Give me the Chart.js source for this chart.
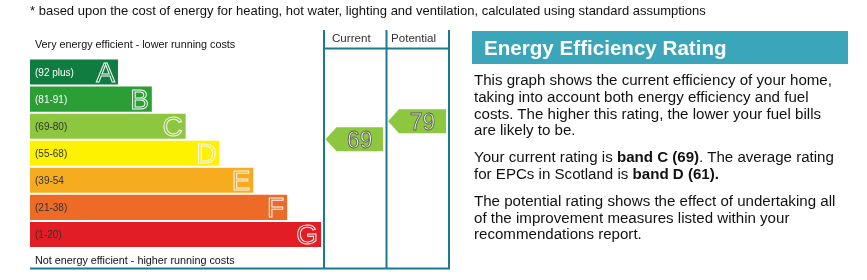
<!DOCTYPE html>
<html>
<head>
<meta charset="utf-8">
<script src="https://cdn.jsdelivr.net/npm/chart.js@4/dist/chart.umd.min.js"></script>
<style>
  html, body { margin: 0; padding: 0; background: #fff; }
  body { width: 867px; height: 280px; position: relative; overflow: hidden; font-family: "Liberation Sans", Arial, sans-serif; }
  #wrap { position: absolute; left: 0; top: 0; width: 867px; height: 280px; }
  .note { position: absolute; left: 30px; top: 3px; font-size: 13px; color: #111; white-space: nowrap; }
  .axtxt { position: absolute; left: 35px; font-size: 10.8px; color: #111; white-space: nowrap; }
  .colhead { position: absolute; top: 31px; font-size: 11.6px; color: #333; white-space: nowrap; }
  .panel { position: absolute; left: 472px; top: 31px; width: 376px; }
  .panel h2 { margin: 0; height: 33px; background: #3ba6ba; color: #fff; font-size: 20.6px; font-weight: bold; line-height: 33px; padding-left: 12px; }
  .panel p { margin: 0 0 0 2px; width: 368px; font-size: 15.1px; line-height: 16.8px; color: #111; }
  .panel p.p1 { margin-top: 8px; }
  .panel p.p2 { margin-top: 10px; }
  .panel p.p3 { margin-top: 10px; }
</style>
</head>
<body>
<div id="wrap"><canvas id="c" width="867" height="280"></canvas></div>
<div class="note">* based upon the cost of energy for heating, hot water, lighting and ventilation, calculated using standard assumptions</div>
<div class="axtxt" style="top:38px">Very energy efficient - lower running costs</div>
<div class="axtxt" style="top:254px">Not energy efficient - higher running costs</div>
<div class="colhead" style="left:332px">Current</div>
<div class="colhead" style="left:391px">Potential</div>
<div class="panel">
  <h2>Energy Efficiency Rating</h2>
  <p class="p1">This graph shows the current efficiency of your home, taking into account both energy efficiency and fuel costs. The higher this rating, the lower your fuel bills are likely to be.</p>
  <p class="p2">Your current rating is <b>band C (69)</b>. The average rating for EPCs in Scotland is <b>band D (61).</b></p>
  <p class="p3">The potential rating shows the effect of undertaking all of the improvement measures listed within your recommendations report.</p>
</div>
<script>
// ---- data ----
const bandLetters = ["A", "B", "C", "D", "E", "F", "G"];
const bandRanges = ["(92 plus)", "(81-91)", "(69-80)", "(55-68)", "(39-54", "(21-38)", "(1-20)"];
const bandLengths = [26, 36, 46, 56, 66, 76, 86];
const bandColors = ["#0f7d3f", "#2b9f35", "#8dc63f", "#fff200", "#f7ac1f", "#ee6b27", "#e31d25"];
const rangeTextColors = ["#ffffff", "#ffffff", "#333333", "#333333", "#333333", "#333333", "#333333"];
const currentRating = 69;
const potentialRating = 79;
const arrowColor = "#8dc63f";
const frameColor = "#1a7a8e";

const epcPlugin = {
  id: "epc",
  afterDatasetsDraw(chart) {
    const ctx = chart.ctx;
    const meta = chart.getDatasetMeta(0);
    ctx.save();
    // labels inside bars
    meta.data.forEach((bar, i) => {
      const props = bar.getProps(["x", "y", "base", "height"], true);
      ctx.fillStyle = rangeTextColors[i];
      ctx.font = "10px 'Liberation Sans', Arial, sans-serif";
      ctx.textAlign = "left";
      ctx.textBaseline = "middle";
      ctx.fillText(bandRanges[i], props.base + 5, props.y + 1);
      ctx.font = "28px 'Liberation Sans', Arial, sans-serif";
      ctx.textAlign = "right";
      ctx.textBaseline = "middle";
      ctx.fillStyle = bandColors[i];
      ctx.fillText(bandLetters[i], props.x - 3, props.y + 2);
      ctx.lineWidth = 1;
      ctx.strokeStyle = "#f4f4f4";
      ctx.strokeText(bandLetters[i], props.x - 3, props.y + 2);
    });
    // frame
    const ys = chart.scales.yRating;
    const cols = [324, 386.5, 449];
    ctx.strokeStyle = frameColor;
    ctx.lineWidth = 2;
    ctx.beginPath();
    cols.forEach(x => { ctx.moveTo(x, 30); ctx.lineTo(x, 269); });
    ctx.moveTo(cols[0], 48.5); ctx.lineTo(cols[2], 48.5);
    ctx.moveTo(30, 268.5); ctx.lineTo(cols[2] + 1, 268.5);
    ctx.stroke();
    // arrows
    const drawArrow = (val, x0, x1) => {
      const y = ys.getPixelForValue(val);
      const h = 24;
      ctx.fillStyle = arrowColor;
      ctx.beginPath();
      ctx.moveTo(x0, y);
      ctx.lineTo(x0 + 11, y - h / 2);
      ctx.lineTo(x1, y - h / 2);
      ctx.lineTo(x1, y + h / 2);
      ctx.lineTo(x0 + 11, y + h / 2);
      ctx.closePath();
      ctx.fill();
      ctx.font = "23px 'Liberation Sans', Arial, sans-serif";
      ctx.textAlign = "center";
      ctx.textBaseline = "middle";
      ctx.fillStyle = "#e3efd3";
      ctx.fillText(String(val), (x0 + 11 + x1) / 2, y + 2);
      ctx.lineWidth = 0.8;
      ctx.strokeStyle = "#5a5a5a";
      ctx.strokeText(String(val), (x0 + 11 + x1) / 2, y + 2);
    };
    drawArrow(currentRating, cols[0] + 1.5, 383);
    drawArrow(potentialRating, cols[1] + 1.5, 446);
    ctx.restore();
  }
};

new Chart(document.getElementById("c"), {
  type: "bar",
  data: {
    labels: bandLetters,
    datasets: [{
      data: bandLengths,
      backgroundColor: bandColors,
      borderWidth: 0,
      barPercentage: 0.925,
      categoryPercentage: 1.0
    }]
  },
  options: {
    indexAxis: "y",
    responsive: false,
    animation: false,
    events: [],
    layout: { padding: { left: 30, right: 867 - 321, top: 58.5, bottom: 280 - 248 } },
    plugins: { legend: { display: false }, tooltip: { enabled: false } },
    scales: {
      x: { display: false, min: 0, max: 86, grid: { display: false } },
      y: { display: false, grid: { display: false } },
      yRating: { type: "linear", display: false, position: "right", min: 14, max: 108.5 }
    }
  },
  plugins: [epcPlugin]
});
</script>
</body>
</html>
